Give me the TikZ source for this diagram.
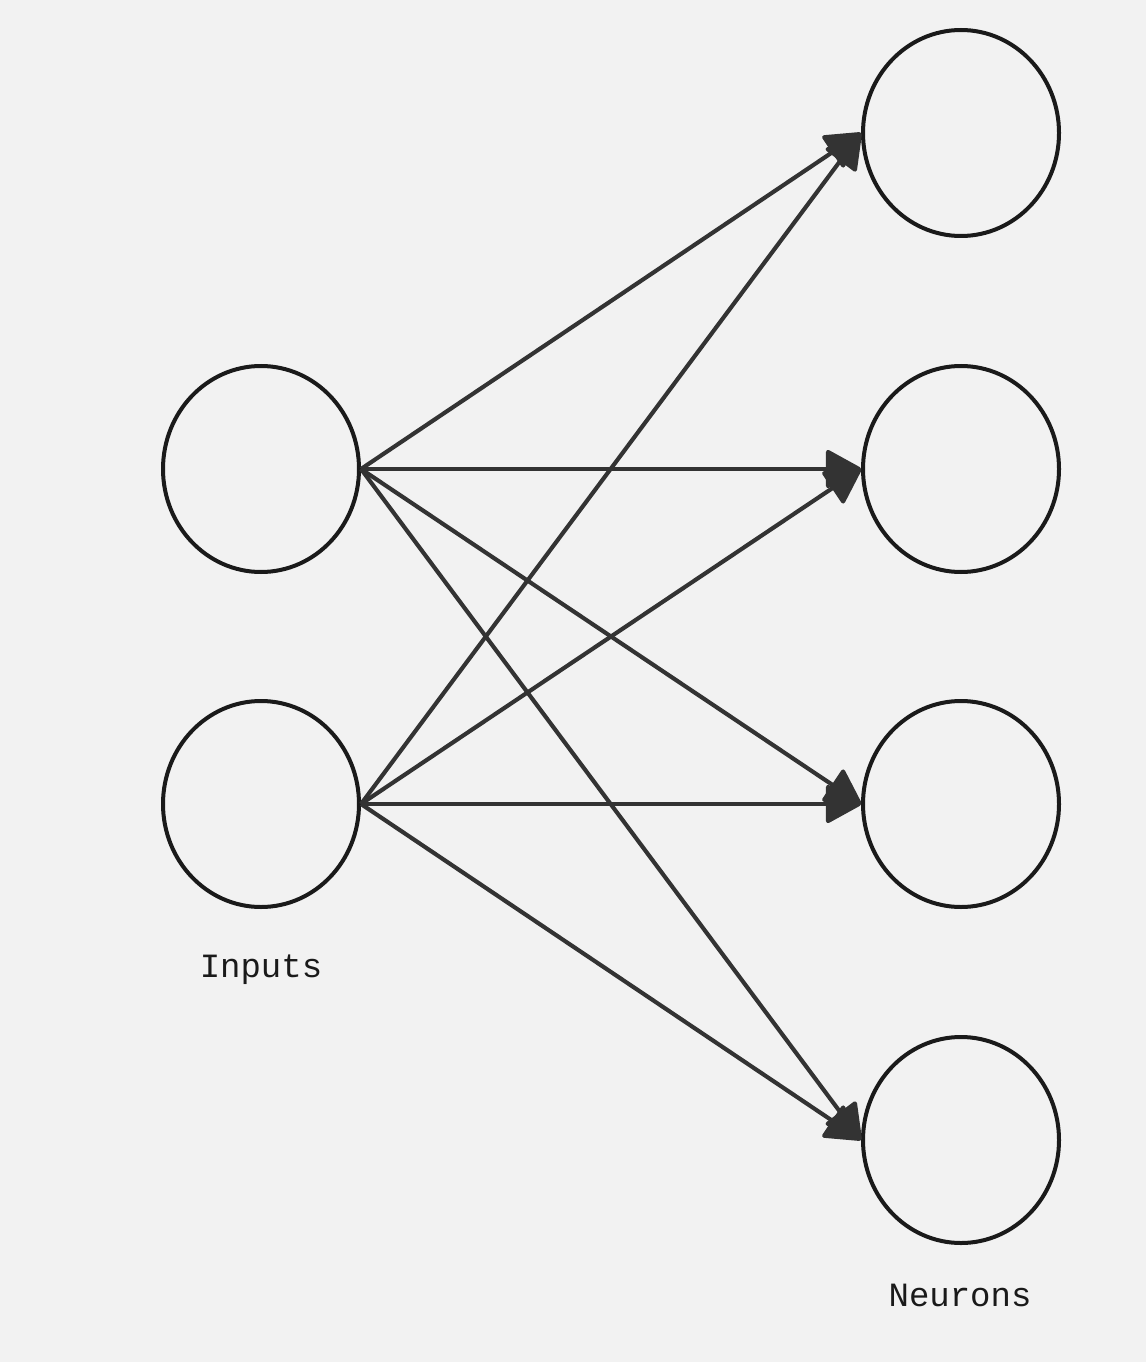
\documentclass[tikz,border=0pt]{standalone}
\usepackage{fontspec}
\setmonofont{Liberation Mono}
\usetikzlibrary{shapes.geometric,arrows.meta}
\definecolor{bg}{HTML}{F2F2F2}
\definecolor{edge}{HTML}{333333}
\definecolor{ring}{HTML}{1A1A1A}
\begin{document}
\begin{tikzpicture}[x=0.75pt,y=-0.75pt,
  neuron/.style={draw=ring,line width=3pt,ellipse,minimum width=147pt,minimum height=154.5pt,inner sep=0pt},
  conn/.style={draw=edge,line width=3.1pt,-{Triangle[length=28pt,width=30pt,round]}},
  lbl/.style={font=\ttfamily\fontsize{25.5}{30}\selectfont,text=ring}]
\fill[bg] (0,0) rectangle (1146,1362);
\useasboundingbox (0,0) rectangle (1146,1362);
\node[neuron] (i1) at (261,469) {};
\node[neuron] (i2) at (261,804) {};
\node[neuron] (o1) at (961,133) {};
\node[neuron] (o2) at (961,469) {};
\node[neuron] (o3) at (961,804) {};
\node[neuron] (o4) at (961,1140) {};
\foreach \i in {i1,i2}{
  \foreach \o in {o1,o2,o3,o4}{
    \draw[conn] (\i.east) -- (\o.west);
  }
}
\node[lbl] (tin) at (261,970) {Inputs};
\node[lbl] (tout) at (960,1295) {Neurons};
\end{tikzpicture}
\end{document}
